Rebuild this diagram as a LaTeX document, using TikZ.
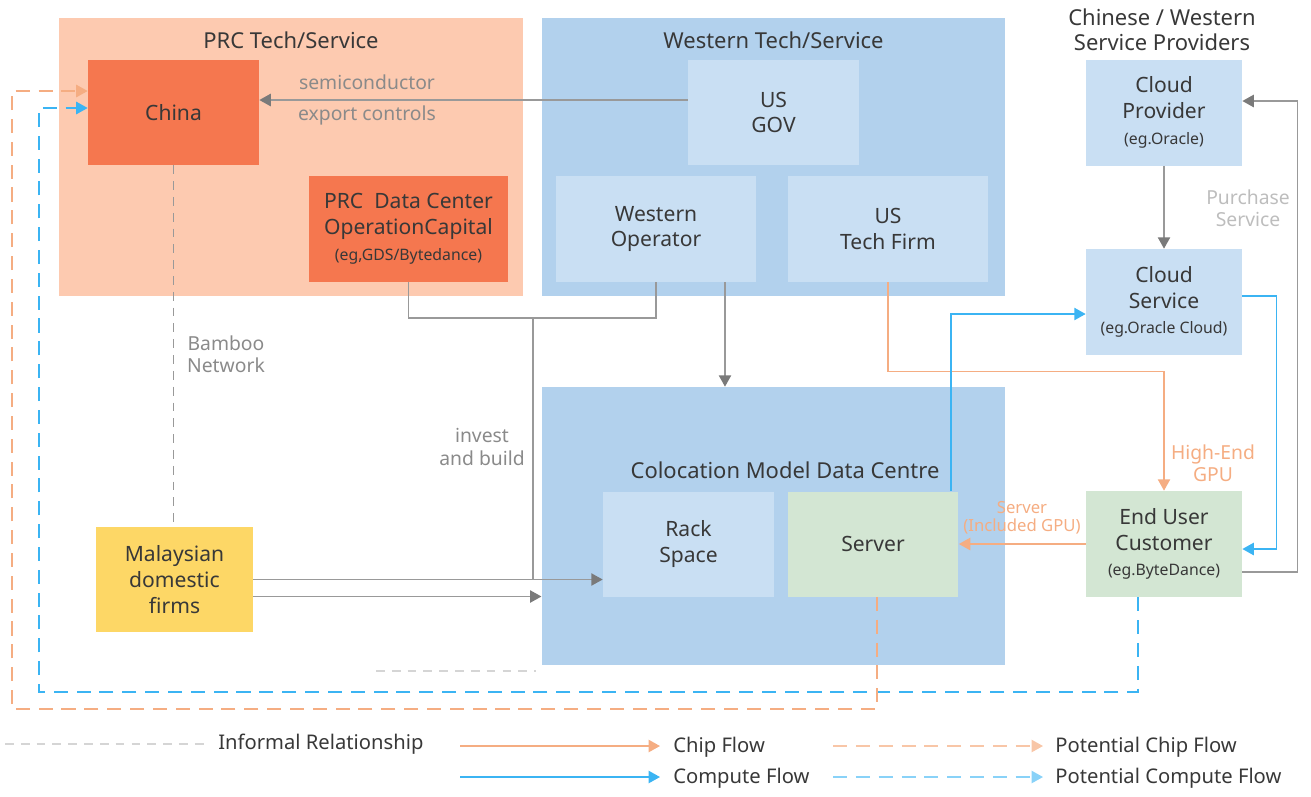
\documentclass[tikz,border=0pt]{standalone}
\usepackage{fontspec}
\setmainfont{Noto Sans}
\usetikzlibrary{arrows.meta}

\definecolor{peach}{HTML}{FDCAB0}
\definecolor{coral}{HTML}{F5774F}
\definecolor{wblue}{HTML}{B2D1ED}
\definecolor{lblue}{HTML}{C9DFF3}
\definecolor{lgreen}{HTML}{D3E6D3}
\definecolor{mustard}{HTML}{FDD766}
\definecolor{ink}{HTML}{383838}
\definecolor{lgray}{HTML}{999999}
\definecolor{hgray}{HTML}{7A7A7A}
\definecolor{tgray}{HTML}{8A8A8A}
\definecolor{pgray}{HTML}{BDBDBD}
\definecolor{igray}{HTML}{D5D5D5}
\definecolor{chip}{HTML}{F5AD82}
\definecolor{comp}{HTML}{3BB4F3}

\newcommand\egtext[1]{{\fontsize{9}{11}\selectfont #1}}

\tikzset{
  area/.style={fill=#1, inner sep=0pt, minimum width=9.27cm, minimum height=5.56cm},
  box/.style={fill=#1, text=ink, align=center, inner sep=0pt,
    font=\fontsize{12}{14.7}\selectfont},
  small/.style={minimum width=3.42cm, minimum height=2.1cm},
  wide/.style={minimum width=4cm, minimum height=2.12cm},
  slim/.style={minimum width=3.12cm, minimum height=2.12cm},
  ttl/.style={text=ink, align=center, font=\fontsize{12.5}{14.2}\selectfont},
  lbl/.style={text=#1, align=center, font=\fontsize{11}{12.8}\selectfont},
  headed/.style={-{Triangle[length=6.5pt,width=7pt]}},
  link/.style={draw=lgray, line width=0.9pt},
  linkto/.style={link, -{Triangle[length=6.5pt,width=7pt,color=hgray]}},
  chipto/.style={draw=chip, line width=0.9pt, headed},
  compto/.style={draw=comp, line width=0.9pt, headed},
  pchip/.style={chipto, dash pattern=on 8pt off 5pt},
  pcomp/.style={compto, dash pattern=on 8pt off 5pt},
  informal/.style={draw=lgray, line width=0.9pt, dash pattern=on 5pt off 4pt},
  legtext/.style={anchor=west, text=ink, inner sep=0pt, font=\fontsize{11.5}{13}\selectfont}
}

\begin{document}
\begin{tikzpicture}[x=0.02cm, y=-0.02cm]
\useasboundingbox (0,0) rectangle (1311,796);

\node[area=peach] (prc) at (291,157) {};
\node[area=wblue] (west) at (773.5,157) {};
\node[area=wblue] (colo) at (773.5,526) {};

\node[ttl] (prct) at (291,40) {PRC Tech/Service};
\node[ttl] (westt) at (773.5,40) {Western Tech/Service};
\node[ttl] (colot) at (785,470) {Colocation Model Data Centre};
\node[ttl] (provt) at (1162,30) {Chinese / Western\\Service Providers};

\node[box=coral, small] (cn) at (173.5,112.5) {China};
\node[box=coral, wide] (dc) at (408.5,229) {PRC~ Data Center\\OperationCapital\\\egtext{(eg,GDS/Bytedance)}};
\node[box=lblue, small] (gov) at (773.5,112.5) {US\\GOV};
\node[box=lblue, wide] (op) at (656,229) {Western\\Operator};
\node[box=lblue, wide] (tf) at (888,229) {US\\Tech Firm};
\node[box=lblue, slim] (cp) at (1164,112.5) {Cloud\\Provider\\\egtext{(eg.Oracle)}};
\node[box=lblue, slim] (cs) at (1164,302) {Cloud\\Service\\\egtext{(eg.Oracle Cloud)}};
\node[box=lgreen, slim] (eu) at (1164,544) {End User\\Customer\\\egtext{(eg.ByteDance)}};
\node[box=lblue, small] (rack) at (688.5,544) {Rack\\Space};
\node[box=lgreen, small] (srv) at (873,544) {Server};
\node[box=mustard, minimum width=3.14cm, minimum height=2.1cm] (my) at (174.5,579.5) {Malaysian\\domestic\\firms};

\node[lbl=tgray, font=\fontsize{11}{14.7}\selectfont] (expl) at (367,100) {semiconductor\\[0.12cm]export controls};
\node[lbl=tgray] (bamboo) at (226,354) {Bamboo\\Network};
\node[lbl=tgray] (invl) at (482,447) {invest\\and build};
\node[lbl=pgray] (purl) at (1248,208) {Purchase\\Service};
\node[lbl=chip] (gpul) at (1213,463) {High-End\\GPU};
\node[lbl=chip, font=\fontsize{9.5}{10.5}\selectfont] (srvl) at (1022,518) {Server\\(Included GPU)};

\coordinate (inv) at (533,318);
\coordinate (my2) at ([yshift=-0.34cm]my.east);
\coordinate (op2) at ([xshift=1.38cm]op.south);

\draw[linkto] ([yshift=0.25cm]gov.west) -- ([yshift=0.25cm]cn.east);
\draw[informal] (cn.south) -- (cn.south |- my.north);
\draw[link] (dc.south) |- (inv) -| (op.south);
\draw[link] (inv) -- (inv |- my.east);
\draw[linkto] (my.east) -- (my.east -| rack.west);
\draw[linkto] (my2) -- (my2 -| colo.west);
\draw[linkto] (op2) -- (op2 |- colo.north);
\draw[linkto] (cp.south) -- (cs.north);
\draw[linkto] ([yshift=-0.56cm]eu.east) -- ++(55,0) |- ([yshift=0.23cm]cp.east);
\draw[informal, draw=igray] (376,671) -- (536,671);

\draw[chipto] (tf.south) -- ++(0,89) -| (eu.north);
\draw[chipto] (eu.west) -- (srv.east);
\draw[compto] ([xshift=1.56cm]srv.north) |- ([yshift=-0.24cm]cs.west);
\draw[compto] ([yshift=0.12cm]cs.east) -- ++(34,0) |- ([yshift=-0.1cm]eu.east);

\draw[pcomp] ([xshift=-0.52cm]eu.south) |- (39,692) |- ([yshift=0.09cm]cn.west);
\draw[pchip] ([xshift=0.08cm]srv.south) |- (12,709) |- ([yshift=0.43cm]cn.west);

\node[legtext] (linf) at (218,744) {Informal Relationship};
\node[legtext] (lchip) at (673,747) {Chip Flow};
\node[legtext] (lpchip) at (1055,747) {Potential Chip Flow};
\node[legtext] (lcomp) at (673,778) {Compute Flow};
\node[legtext] (lpcomp) at (1055,778) {Potential Compute Flow};
\coordinate (a1) at (5,744);
\coordinate (a2) at (460,746);
\coordinate (a3) at (833,746);
\coordinate (a4) at (460,777);
\coordinate (a5) at (833,777);
\draw[informal, draw=igray] (a1) -- ([xshift=-0.26cm]linf.west);
\draw[chipto] (a2) -- ([xshift=-0.26cm]lchip.west |- a2);
\draw[pchip, draw=chip!70] (a3) -- ([xshift=-0.24cm]lpchip.west |- a3);
\draw[compto] (a4) -- ([xshift=-0.26cm]lcomp.west |- a4);
\draw[pcomp, draw=comp!60] (a5) -- ([xshift=-0.24cm]lpcomp.west |- a5);
\end{tikzpicture}
\end{document}
